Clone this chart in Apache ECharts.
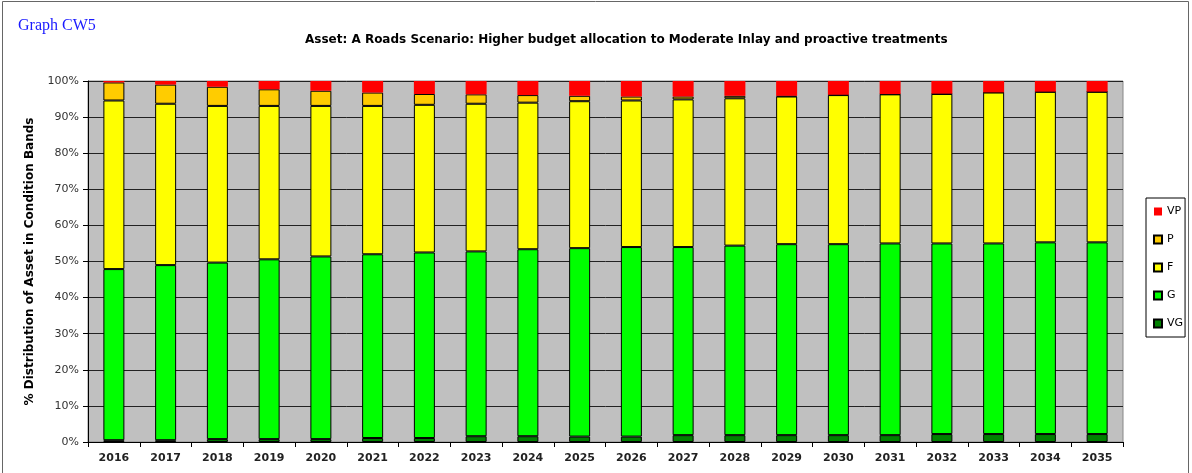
<!DOCTYPE html>
<html>
<head>
<meta charset="utf-8">
<script src="https://cdn.jsdelivr.net/npm/echarts@6/dist/echarts.min.js"></script>
<style>
html, body { margin: 0; padding: 0; background: #fff; }
#chart { width: 1192px; height: 473px; }
</style>
</head>
<body>
<div id="chart"></div>
<script>
// condition bands per year, % of network
const years = ['2016', '2017', '2018', '2019', '2020', '2021', '2022', '2023', '2024', '2025',
  '2026', '2027', '2028', '2029', '2030', '2031', '2032', '2033', '2034', '2035']
const vgValues = [0.5, 0.5, 0.8, 0.8, 0.8, 1.1, 1.1, 1.6, 1.6, 1.5, 1.5, 1.9, 1.9, 1.9, 1.9, 1.9, 2.2, 2.2, 2.2, 2.2]
const gValues = [47.4, 48.5, 48.9, 49.8, 50.6, 50.9, 51.4, 51.2, 51.8, 52.2, 52.5, 52.1, 52.5, 52.9, 52.9, 53.1, 52.8, 52.8, 53.1, 53.1]
const fValues = [46.7, 44.7, 43.4, 42.5, 41.7, 41.1, 40.9, 40.9, 40.6, 40.7, 40.6, 40.9, 40.8, 40.9, 41.3, 41.3, 41.4, 41.8, 41.7, 41.7]
const pValues = [5.0, 5.3, 5.3, 4.6, 4.2, 3.7, 3.0, 2.6, 2.1, 1.5, 1.1, 0.8, 0.7, 0.2, 0.1, 0.1, 0.1, 0.05, 0.05, 0.05]
const vpValues = [0.4, 1.0, 1.6, 2.3, 2.7, 3.2, 3.6, 3.7, 3.9, 4.1, 4.3, 4.3, 4.1, 4.1, 3.8, 3.6, 3.5, 3.15, 2.95, 2.95]

const font = 'DejaVu Sans'

let myChart = echarts.init(document.getElementById('chart'))

function band (name, data, color, border) {
  return {
    name: name,
    type: 'bar',
    stack: 'bands',
    barWidth: 21,
    data: data,
    itemStyle: {
      color: color,
      borderColor: '#000',
      borderWidth: border ? 1 : 0
    }
  }
}

myChart.setOption({
  animation: false,
  backgroundColor: '#fff',
  title: {
    text: 'Asset: A Roads Scenario: Higher budget allocation to Moderate Inlay and proactive treatments',
    left: 300,
    top: 29,
    textStyle: {fontFamily: font, fontSize: 12, fontWeight: 'bold', color: '#000'}
  },
  graphic: [
    {
      type: 'rect',
      shape: {x: 2.5, y: 1.5, width: 1186, height: 480},
      style: {fill: 'none', stroke: '#666', lineWidth: 1},
      silent: true
    },
    {
      type: 'text',
      left: 18,
      top: 18,
      style: {text: 'Graph CW5', fill: '#1a1aff', font: '16px "Liberation Serif", serif'}
    }
  ],
  legend: {
    orient: 'vertical',
    left: 1146,
    top: 198,
    data: ['VP', 'P', 'F', 'G', 'VG'],
    icon: 'rect',
    itemWidth: 8,
    itemHeight: 8,
    itemGap: 17,
    padding: [8, 2, 8, 7],
    borderColor: '#000',
    borderWidth: 1,
    backgroundColor: '#fff',
    textStyle: {fontFamily: font, fontSize: 11, color: '#000'}
  },
  grid: {
    left: 88,
    right: 69,
    top: 81,
    bottom: 31,
    show: true,
    backgroundColor: '#c0c0c0',
    borderColor: '#888',
    borderWidth: 1
  },
  xAxis: {
    type: 'category',
    data: years,
    axisLine: {lineStyle: {color: '#000', width: 1}},
    axisTick: {show: true, alignWithLabel: false, length: 5, lineStyle: {color: '#000'}},
    axisLabel: {fontFamily: font, fontSize: 11, fontWeight: 'bold', color: '#222', margin: 11}
  },
  yAxis: {
    type: 'value',
    min: 0,
    max: 100,
    interval: 10,
    name: '% Distribution of Asset in Condition Bands',
    nameLocation: 'middle',
    nameRotate: 90,
    nameGap: 52,
    nameTextStyle: {fontFamily: font, fontSize: 12, fontWeight: 'bold', color: '#000'},
    axisLine: {show: true, lineStyle: {color: '#000'}},
    axisTick: {show: true, length: 5, lineStyle: {color: '#000'}},
    axisLabel: {formatter: '{value}%', fontFamily: font, fontSize: 11, color: '#333', margin: 9},
    splitLine: {lineStyle: {color: '#222', width: 1}}
  },
  series: [
    band('VG', vgValues, '#008000', true),
    band('G', gValues, '#00ff00', true),
    band('F', fValues, '#ffff00', true),
    band('P', pValues, '#ffcc00', true),
    band('VP', vpValues, '#ff0000', false)
  ]
})
</script>
</body>
</html>
